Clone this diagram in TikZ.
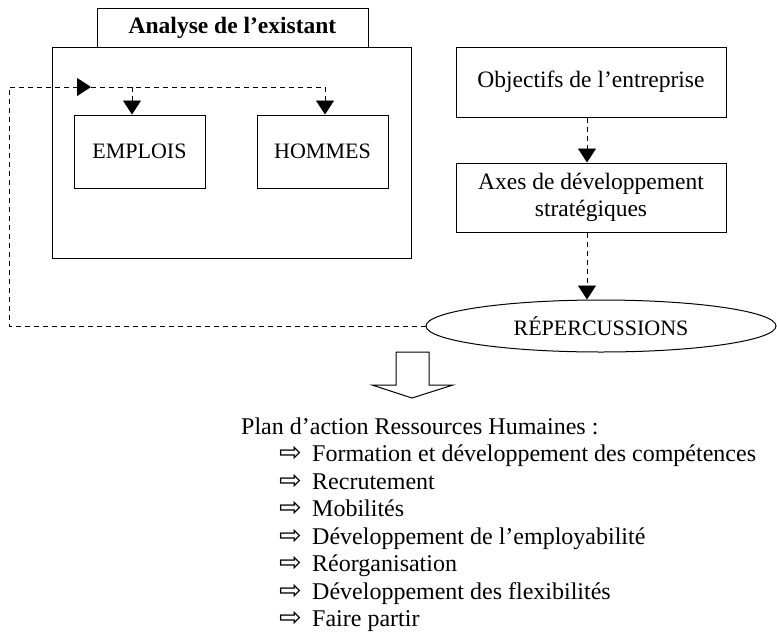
\documentclass[tikz,border=0pt]{standalone}
\usepackage{fontspec}
\setmainfont{Liberation Serif}
\newfontfamily\symfont{DejaVu Sans}
\usetikzlibrary{arrows.meta,shapes.geometric}
\tikzset{
  box/.style={draw, line width=1pt, inner sep=0pt, align=center},
  conn/.style={line width=0.9pt, dash pattern=on 5pt off 4pt},
  tip/.style={-{Triangle[width=18pt,length=14pt]}},
  big/.style={font=\fontsize{23.5}{27.5}\selectfont},
  mid/.style={font=\fontsize{22}{26}\selectfont},
  lst/.style={font=\fontsize{24}{27}\selectfont, inner sep=0pt, anchor=base west},
}
\begin{document}
\begin{tikzpicture}[x=1pt,y=-1pt]
\useasboundingbox (0,0) rectangle (777,635);
% left group
\node[box, minimum width=359, minimum height=211] (outer) at (231.5,152.5) {};
\node[box, big, fill=white, minimum width=271, minimum height=39, font=\fontsize{23.5}{27.5}\selectfont\bfseries] (title) at (232.5,27.5) {Analyse de l’existant};
\node[box, mid, minimum width=131, minimum height=73] (emp) at (139.5,151.5) {EMPLOIS};
\node[box, mid, minimum width=131, minimum height=73] (hom) at (322.5,151.5) {HOMMES};
% right group
\node[box, big, minimum width=270, minimum height=70] (obj) at (591,82) {Objectifs de l’entreprise};
\node[box, big, minimum width=270, minimum height=69] (axes) at (591,197.5) {Axes de développement\\stratégiques};
\node[draw, line width=1pt, ellipse, mid, inner sep=0pt, minimum width=350, minimum height=52] (rep) at (601,326) {RÉPERCUSSIONS};
% connectors
\coordinate (c1) at (9,87);
\coordinate (c2) at (91,87);
\coordinate (c3) at (132,87);
\coordinate (c4) at (325,87);
\draw[conn, tip] (rep.west) -| (c1) -- (c2);
\draw[conn] (c2) -- (c4);
\draw[conn, tip] (c3) -- (c3 |- emp.north);
\draw[conn, tip] (c4) -- (c4 |- hom.north);
\draw[conn, tip] ([xshift=-4pt]obj.south) -- ([xshift=-4pt]axes.north);
\draw[conn, tip] ([xshift=-4pt]axes.south) -- ([xshift=-4pt]axes.south |- rep.north);
% block arrow
\draw[line width=1pt, line join=miter] (396,352) -- (429,352) -- (429,385) -- (453,385) -- (412,398) -- (372,385) -- (396,385) -- cycle;
% list
\node[lst] (plan) at (241,434) {Plan d’action Ressources Humaines :};
\foreach \i/\t in {1/Formation et développement des compétences,
                   2/Recrutement,
                   3/Mobilités,
                   4/Développement de l’employabilité,
                   5/Réorganisation,
                   6/Développement des flexibilités,
                   7/Faire partir}{
  \node[lst, font=\fontsize{27}{27}\symfont] (a\i) at (279,{434+\i*27.5}) {⇨};
  \node[lst] (t\i) at (312,{434+\i*27.5}) {\t};
}
\end{tikzpicture}
\end{document}
